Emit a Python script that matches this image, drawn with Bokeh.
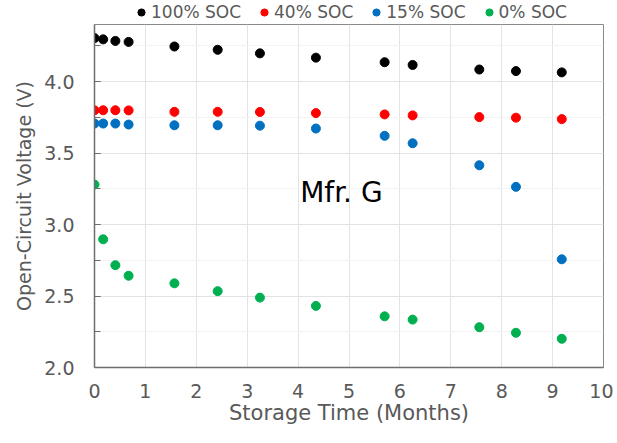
from bokeh.plotting import figure
from bokeh.layouts import column
from bokeh.models import Legend, LegendItem, Label, SingleIntervalTicker, Range1d, NumeralTickFormatter
from bokeh.embed import file_html
from bokeh.resources import INLINE

# storage time in months, shared by all series
months = [0, 0.17, 0.41, 0.67, 1.57, 2.42, 3.25, 4.35, 5.7, 6.25, 7.56, 8.28, 9.18]

# open-circuit voltage (V) per state of charge
soc100 = [4.305, 4.296, 4.285, 4.278, 4.246, 4.223, 4.198, 4.168, 4.136, 4.117, 4.085, 4.074, 4.065]
soc40 = [3.800, 3.800, 3.800, 3.799, 3.789, 3.789, 3.788, 3.780, 3.771, 3.764, 3.752, 3.748, 3.738]
soc15 = [3.707, 3.707, 3.707, 3.700, 3.695, 3.695, 3.692, 3.672, 3.621, 3.569, 3.415, 3.264, 2.757]
soc0 = [3.280, 2.897, 2.716, 2.642, 2.589, 2.534, 2.489, 2.431, 2.358, 2.335, 2.282, 2.243, 2.201]

series_names = ["100% SOC", "40% SOC", "15% SOC", "0% SOC"]
series_colors = ["#000000", "#ff0000", "#0070c0", "#00b050"]

FONT = "DejaVu Sans"
GREY = "#595959"

# main chart
p = figure(width=613, height=404, output_backend="svg", toolbar_location=None,
           x_range=Range1d(0, 10), y_range=Range1d(2.0, 4.4),
           min_border_left=94, min_border_right=10, min_border_top=1, min_border_bottom=58)
p.outline_line_color = "#898989"
p.outline_line_width = 1

series = [soc100, soc40, soc15, soc0]
for vals, col in zip(series, series_colors):
    p.scatter(months, vals, size=9, color=col, line_color=col)

p.xaxis.ticker = SingleIntervalTicker(interval=1, num_minor_ticks=0)
p.yaxis.ticker = SingleIntervalTicker(interval=0.5, num_minor_ticks=2)
p.yaxis.formatter = NumeralTickFormatter(format="0.0")
for ax in (p.xaxis, p.yaxis):
    ax.axis_line_color = "#6e6e6e"
    ax.axis_line_width = 1.5
    ax.major_label_text_font = FONT
    ax.major_label_text_color = GREY
    ax.major_label_text_font_size = "19px"
    ax.axis_label_text_font = FONT
    ax.axis_label_text_color = GREY
    ax.axis_label_text_font_style = "normal"
    ax.major_tick_out = 0
    ax.minor_tick_out = 0
p.xaxis.major_tick_in = 0
p.xaxis.minor_tick_in = 0
p.yaxis.major_tick_in = 6
p.yaxis.minor_tick_in = 6
p.yaxis.major_tick_line_color = "#6e6e6e"
p.yaxis.minor_tick_line_color = "#6e6e6e"
p.xaxis.major_label_standoff = 16
p.yaxis.major_label_standoff = 20
p.xaxis.axis_label = "Storage Time (Months)"
p.xaxis.axis_label_text_font_size = "21px"
p.xaxis.axis_label_standoff = 0
p.yaxis.axis_label = "Open-Circuit Voltage (V)"
p.yaxis.axis_label_text_font_size = "19px"
p.yaxis.axis_label_standoff = 6

p.xgrid.grid_line_color = "#e3e3e3"
p.ygrid.grid_line_color = "#e3e3e3"
p.ygrid.minor_grid_line_color = "#f3f3f3"

p.add_layout(Label(x=4.85, y=3.227, text="Mfr. G", text_font=FONT, text_font_size="28px",
                   text_color="#000000", text_align="center", text_baseline="middle"))

# legend strip above the chart (its own series sit outside its empty y range)
top = figure(width=613, height=23, output_backend="svg", toolbar_location=None,
             x_range=Range1d(0, 10), y_range=Range1d(10, 11),
             x_axis_location=None, y_axis_location=None,
             min_border_left=0, min_border_right=0, min_border_top=0, min_border_bottom=0)
top.outline_line_color = None
top.grid.visible = False
keys = [top.scatter(months, vals, color=col) for vals, col in zip(series, series_colors)]

legend = Legend(items=[LegendItem(label=n, renderers=[r]) for n, r in zip(series_names, keys)],
                orientation="horizontal", location=(38, 1),
                glyph_width=18, glyph_height=18, label_height=18, label_standoff=1, spacing=14,
                padding=0, margin=0, border_line_color=None, background_fill_alpha=0,
                label_text_font=FONT, label_text_font_size="17px", label_text_color=GREY)
top.add_layout(legend, "center")

layout = column(top, p, spacing=0)
open("out.html", "w").write(file_html(layout, INLINE))
